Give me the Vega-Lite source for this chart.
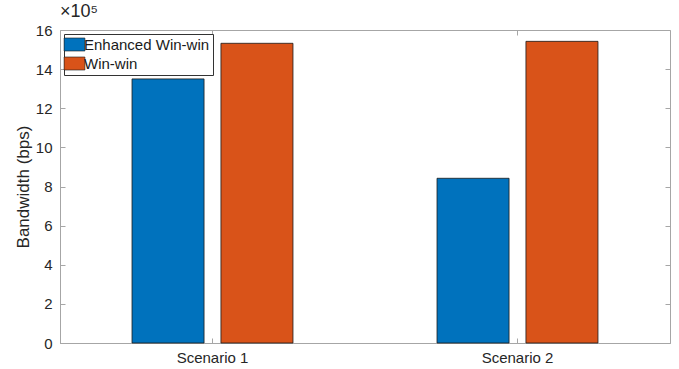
{
  "$schema": "https://vega.github.io/schema/vega-lite/v6.json",
  "autosize": {"type": "none"},
  "width": 610,
  "height": 313,
  "padding": {"left": 60, "top": 30, "right": 9, "bottom": 26},
  "background": "white",
  "config": {
    "font": "Liberation Sans",
    "view": {"stroke": "#a6a6a6", "strokeWidth": 1},
    "axis": {
      "grid": false,
      "domainColor": "#a6a6a6",
      "tickColor": "#a6a6a6",
      "labelColor": "#262626",
      "titleColor": "#262626",
      "labelFont": "Liberation Sans",
      "titleFont": "Liberation Sans",
      "labelFontSize": 15,
      "titleFontSize": 17,
      "titleFontWeight": "normal"
    }
  },
  "title": {
    "text": "×10⁵",
    "anchor": "start",
    "frame": "group",
    "offset": 2,
    "fontSize": 18,
    "fontWeight": "normal",
    "color": "#262626",
    "font": "Liberation Sans"
  },
  "data": {
    "values": [
      {"scenario": "Scenario 1", "method": "Enhanced Win-win", "bandwidth": 1350000},
      {"scenario": "Scenario 1", "method": "Win-win", "bandwidth": 1532000},
      {"scenario": "Scenario 2", "method": "Enhanced Win-win", "bandwidth": 842000},
      {"scenario": "Scenario 2", "method": "Win-win", "bandwidth": 1542000}
    ]
  },
  "layer": [
    {
      "mark": {"type": "bar", "stroke": "#1a1a1a", "strokeWidth": 0.8},
      "encoding": {
        "x": {
          "field": "scenario",
          "type": "nominal",
          "scale": {"paddingInner": 0, "paddingOuter": 0},
          "axis": {
            "title": null,
            "labelAngle": 0,
            "tickSize": -5,
            "labelPadding": 12,
            "domain": true
          }
        },
        "xOffset": {
          "field": "method",
          "type": "nominal",
          "scale": {"paddingInner": 0.19, "paddingOuter": 0.81}
        },
        "y": {
          "field": "bandwidth",
          "type": "quantitative",
          "scale": {"domain": [0, 1600000], "nice": false},
          "axis": {
            "title": "Bandwidth (bps)",
            "values": [0, 200000, 400000, 600000, 800000, 1000000, 1200000, 1400000, 1600000],
            "labelExpr": "format(datum.value / 100000, 'd')",
            "tickSize": -5,
            "labelPadding": 13,
            "titlePadding": 3
          }
        },
        "color": {
          "field": "method",
          "type": "nominal",
          "scale": {"domain": ["Enhanced Win-win", "Win-win"], "range": ["#0072BD", "#D95319"]},
          "legend": {
            "title": null,
            "orient": "top-left",
            "offset": 4,
            "fillColor": "white",
            "strokeColor": "#333333",
            "padding": 3,
            "labelFontSize": 15,
            "labelColor": "#1a1a1a",
            "labelFont": "Liberation Sans",
            "symbolType": "M-1.6,-1L1.6,-1L1.6,1L-1.6,1Z",
            "symbolSize": 169,
            "symbolStrokeColor": "#1a1a1a",
            "symbolStrokeWidth": 0.6,
            "symbolOpacity": 1,
            "rowPadding": 2,
            "labelOffset": 2
          }
        }
      }
    },
    {
      "mark": {"type": "bar", "opacity": 0},
      "encoding": {
        "x": {
          "field": "scenario",
          "type": "nominal",
          "axis": {"orient": "top", "title": null, "labels": false, "tickSize": -5, "domain": false}
        },
        "xOffset": {"field": "method", "type": "nominal"},
        "y": {
          "field": "bandwidth",
          "type": "quantitative",
          "axis": {
            "orient": "right",
            "title": null,
            "labels": false,
            "domain": false,
            "values": [0, 200000, 400000, 600000, 800000, 1000000, 1200000, 1400000, 1600000],
            "tickSize": -5
          }
        }
      }
    }
  ],
  "resolve": {"axis": {"x": "independent", "y": "independent"}}
}
